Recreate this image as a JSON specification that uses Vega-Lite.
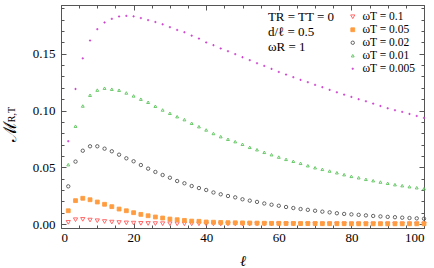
{
  "$schema": "https://vega.github.io/schema/vega-lite/v6.json",
  "autosize": "none",
  "width": 363,
  "height": 223,
  "padding": {"left": 61, "top": 5, "right": 10, "bottom": 40},
  "background": "white",
  "config": {
    "font": "Liberation Serif",
    "view": {"stroke": "#555555", "strokeWidth": 1},
    "axis": {"labelFont": "Liberation Serif", "titleFont": "Liberation Serif", "labelColor": "#000000", "titleColor": "#000000", "tickColor": "#555555", "domain": false, "grid": false, "labelFontSize": 13, "titleFontWeight": "normal"},
    "legend": {"orient": "none", "legendX": 286, "legendY": 6, "labelFont": "Liberation Serif", "labelFontSize": 11.5, "rowPadding": 0, "labelOffset": 4}
  },
  "data": {"values": [
    {"l":2,"a":0.0015,"b":0.0117,"c":0.0332,"d":0.0523,"e":0.073},
    {"l":4,"a":0.0038,"b":0.0206,"c":0.055,"d":0.0862,"e":0.119},
    {"l":6,"a":0.0041,"b":0.0227,"c":0.0646,"d":0.104,"e":0.146},
    {"l":8,"a":0.0035,"b":0.0214,"c":0.0685,"d":0.1135,"e":0.1617},
    {"l":10,"a":0.0029,"b":0.0194,"c":0.0685,"d":0.118,"e":0.1717},
    {"l":12,"a":0.0022,"b":0.0174,"c":0.0664,"d":0.1197,"e":0.1776},
    {"l":14,"a":0.0017,"b":0.0153,"c":0.0641,"d":0.1188,"e":0.1808},
    {"l":16,"a":0.0013,"b":0.0132,"c":0.0611,"d":0.1179,"e":0.1829},
    {"l":18,"a":0.001,"b":0.0117,"c":0.0579,"d":0.1155,"e":0.1834},
    {"l":20,"a":0.0008,"b":0.01,"c":0.0553,"d":0.1129,"e":0.183},
    {"l":22,"a":0.0006,"b":0.0085,"c":0.052,"d":0.11,"e":0.1815},
    {"l":24,"a":0.0005,"b":0.0073,"c":0.0488,"d":0.1073,"e":0.1797},
    {"l":26,"a":0.0004,"b":0.0062,"c":0.0459,"d":0.1038,"e":0.178},
    {"l":28,"a":0.0003,"b":0.0053,"c":0.0432,"d":0.1005,"e":0.176},
    {"l":30,"a":0.0003,"b":0.0044,"c":0.0408,"d":0.0976,"e":0.1735},
    {"l":32,"a":0.0002,"b":0.0038,"c":0.0379,"d":0.0946,"e":0.171},
    {"l":34,"a":0.0002,"b":0.0032,"c":0.0359,"d":0.092,"e":0.169},
    {"l":36,"a":0.0002,"b":0.0026,"c":0.0335,"d":0.0888,"e":0.166},
    {"l":38,"a":0.0002,"b":0.0024,"c":0.0317,"d":0.0858,"e":0.1634},
    {"l":40,"a":0.0001,"b":0.0018,"c":0.03,"d":0.0829,"e":0.16},
    {"l":42,"a":0.0001,"b":0.0016,"c":0.0278,"d":0.0798,"e":0.1576},
    {"l":44,"a":0.0001,"b":0.0014,"c":0.0262,"d":0.077,"e":0.1547},
    {"l":46,"a":0.0001,"b":0.0012,"c":0.0247,"d":0.0747,"e":0.1523},
    {"l":48,"a":0.0001,"b":0.0011,"c":0.0235,"d":0.0726,"e":0.1497},
    {"l":50,"a":0.0001,"b":0.001,"c":0.0218,"d":0.0703,"e":0.147},
    {"l":52,"a":0.0001,"b":0.0009,"c":0.0206,"d":0.0676,"e":0.1444},
    {"l":54,"a":0.0001,"b":0.0008,"c":0.0195,"d":0.0655,"e":0.1417},
    {"l":56,"a":0.0001,"b":0.0007,"c":0.0181,"d":0.0632,"e":0.1393},
    {"l":58,"a":0.0001,"b":0.0006,"c":0.017,"d":0.0611,"e":0.1367},
    {"l":60,"a":0.0001,"b":0.0006,"c":0.0161,"d":0.059,"e":0.134},
    {"l":62,"a":0.0001,"b":0.0005,"c":0.015,"d":0.057,"e":0.1317},
    {"l":64,"a":0.0001,"b":0.0005,"c":0.0141,"d":0.0553,"e":0.1294},
    {"l":66,"a":0.0001,"b":0.0004,"c":0.0132,"d":0.0535,"e":0.127},
    {"l":68,"a":0.0001,"b":0.0004,"c":0.0125,"d":0.0514,"e":0.125},
    {"l":70,"a":0.0001,"b":0.0004,"c":0.0117,"d":0.0496,"e":0.1226},
    {"l":72,"a":0.0001,"b":0.0003,"c":0.0109,"d":0.0482,"e":0.1206},
    {"l":74,"a":0.0001,"b":0.0003,"c":0.0103,"d":0.0467,"e":0.1182},
    {"l":76,"a":0.0001,"b":0.0003,"c":0.0095,"d":0.0452,"e":0.1161},
    {"l":78,"a":0.0001,"b":0.0003,"c":0.0089,"d":0.0435,"e":0.114},
    {"l":80,"a":0.0001,"b":0.0002,"c":0.0085,"d":0.042,"e":0.112},
    {"l":82,"a":0.0001,"b":0.0002,"c":0.0081,"d":0.0408,"e":0.11},
    {"l":84,"a":0.0001,"b":0.0002,"c":0.0076,"d":0.0394,"e":0.1082},
    {"l":86,"a":0.0001,"b":0.0002,"c":0.0071,"d":0.0382,"e":0.1061},
    {"l":88,"a":0.0001,"b":0.0002,"c":0.0067,"d":0.037,"e":0.104},
    {"l":90,"a":0.0001,"b":0.0002,"c":0.0063,"d":0.0359,"e":0.102},
    {"l":92,"a":0.0001,"b":0.0002,"c":0.006,"d":0.0347,"e":0.1003},
    {"l":94,"a":0.0001,"b":0.0002,"c":0.0056,"d":0.0338,"e":0.0988},
    {"l":96,"a":0.0001,"b":0.0002,"c":0.0053,"d":0.0329,"e":0.097},
    {"l":98,"a":0.0001,"b":0.0002,"c":0.005,"d":0.032,"e":0.0952},
    {"l":100,"a":0.0001,"b":0.0002,"c":0.0047,"d":0.0311,"e":0.0935}
  ]},
  "transform": [{"fold": ["a", "b", "c", "d", "e"], "as": ["s", "m"]}],
  "resolve": {"axis": {"x": "independent", "y": "independent"}},
  "layer": [
    {
      "mark": {"type": "point", "opacity": 0},
      "encoding": {
        "x": {"field": "l", "type": "quantitative", "scale": {"domain": [0, 100], "nice": false, "zero": false},
              "axis": {"orient": "bottom", "values": [0,5,10,15,20,25,30,35,40,45,50,55,60,65,70,75,80,85,90,95,100], "tickSize": -3, "labels": false, "title": null}},
        "y": {"field": "m", "type": "quantitative", "scale": {"domain": [-0.0035, 0.193], "nice": false, "zero": false},
              "axis": {"orient": "left", "values": [0,0.01,0.02,0.03,0.04,0.05,0.06,0.07,0.08,0.09,0.1,0.11,0.12,0.13,0.14,0.15,0.16,0.17,0.18,0.19], "tickSize": -3, "labels": false,
                       "title": "R,T", "titleFontSize": 10, "titleX": -47, "titleY": 109, "titleAngle": 270, "titleAlign": "center", "titleBaseline": "alphabetic"}}
      }
    },
    {
      "mark": {"type": "point", "opacity": 0},
      "encoding": {
        "x": {"field": "l", "type": "quantitative",
              "axis": {"orient": "top", "values": [0,5,10,15,20,25,30,35,40,45,50,55,60,65,70,75,80,85,90,95,100], "tickSize": -3, "labels": false, "title": null}},
        "y": {"field": "m", "type": "quantitative",
              "axis": {"orient": "right", "values": [0,0.01,0.02,0.03,0.04,0.05,0.06,0.07,0.08,0.09,0.1,0.11,0.12,0.13,0.14,0.15,0.16,0.17,0.18,0.19], "tickSize": -3, "labels": false, "title": null}}
      }
    },
    {
      "mark": {"type": "point", "opacity": 0},
      "encoding": {
        "x": {"field": "l", "type": "quantitative",
              "axis": {"orient": "top", "values": [0,20,40,60,80,100], "tickSize": -5, "labels": false, "title": null}},
        "y": {"field": "m", "type": "quantitative",
              "axis": {"orient": "right", "values": [0,0.05,0.1,0.15], "tickSize": -5, "labels": false, "title": null}}
      }
    },
    {
      "mark": {"type": "point", "opacity": 1},
      "encoding": {
        "x": {"field": "l", "type": "quantitative",
              "axis": {"orient": "bottom", "values": [0,20,40,60,80,100], "tickSize": -5, "labelPadding": 8, "title": "ℓ", "titleFontStyle": "italic", "titleFontSize": 15, "titlePadding": 9}},
        "y": {"field": "m", "type": "quantitative",
              "axis": {"orient": "left", "values": [0,0.05,0.1,0.15], "format": ".2f", "tickSize": -5, "labelPadding": 11,
                       "title": "ℳ", "titleFontSize": 18, "titleX": -46, "titleY": 126, "titleAngle": 270, "titleAlign": "center", "titleBaseline": "alphabetic"}},
        "shape": {"field": "s", "type": "nominal",
                  "scale": {"domain": ["a","b","c","d","e"], "range": ["triangle-down","square","circle","triangle-up","M-1,0H1M0,-1V1"]},
                  "legend": {"title": null,
                             "labelExpr": "{'a':'ωT = 0.1','b':'ωT = 0.05','c':'ωT = 0.02','d':'ωT = 0.01','e':'ωT = 0.005'}[datum.label]"}},
        "stroke": {"field": "s", "type": "nominal",
                   "scale": {"domain": ["a","b","c","d","e"], "range": ["#ff5a5a","#ff9c40","#555555","#5cc45c","#cc3acc"]},
                   "legend": {"title": null,
                             "labelExpr": "{'a':'ωT = 0.1','b':'ωT = 0.05','c':'ωT = 0.02','d':'ωT = 0.01','e':'ωT = 0.005'}[datum.label]"}},
        "fill": {"field": "s", "type": "nominal",
                 "scale": {"domain": ["a","b","c","d","e"], "range": ["transparent","#ff9c40","transparent","transparent","transparent"]},
                 "legend": {"title": null,
                             "labelExpr": "{'a':'ωT = 0.1','b':'ωT = 0.05','c':'ωT = 0.02','d':'ωT = 0.01','e':'ωT = 0.005'}[datum.label]"}},
        "size": {"field": "s", "type": "nominal",
                 "scale": {"domain": ["a","b","c","d","e"], "range": [18, 5, 22, 18, 14]},
                 "legend": {"title": null,
                             "labelExpr": "{'a':'ωT = 0.1','b':'ωT = 0.05','c':'ωT = 0.02','d':'ωT = 0.01','e':'ωT = 0.005'}[datum.label]"}},
        "strokeWidth": {"field": "s", "type": "nominal",
                 "scale": {"domain": ["a","b","c","d","e"], "range": [0.9, 0.9, 0.9, 0.9, 1.4]},
                 "legend": {"title": null,
                             "labelExpr": "{'a':'ωT = 0.1','b':'ωT = 0.05','c':'ωT = 0.02','d':'ωT = 0.01','e':'ωT = 0.005'}[datum.label]"}}
      }
    },
    {
      "transform": [{"filter": "datum.l == 2 && datum.s == 'a'"}],
      "mark": {"type": "text", "text": ["TR = TT = 0", "d/ℓ = 0.5", "ωR = 1"], "align": "left", "baseline": "top", "lineHeight": 15, "font": "Liberation Serif", "fontSize": 13, "color": "#000000"},
      "encoding": {
        "x": {"datum": 57, "type": "quantitative", "axis": null},
        "y": {"datum": 0.188, "type": "quantitative", "axis": null}
      }
    }
  ]
}
